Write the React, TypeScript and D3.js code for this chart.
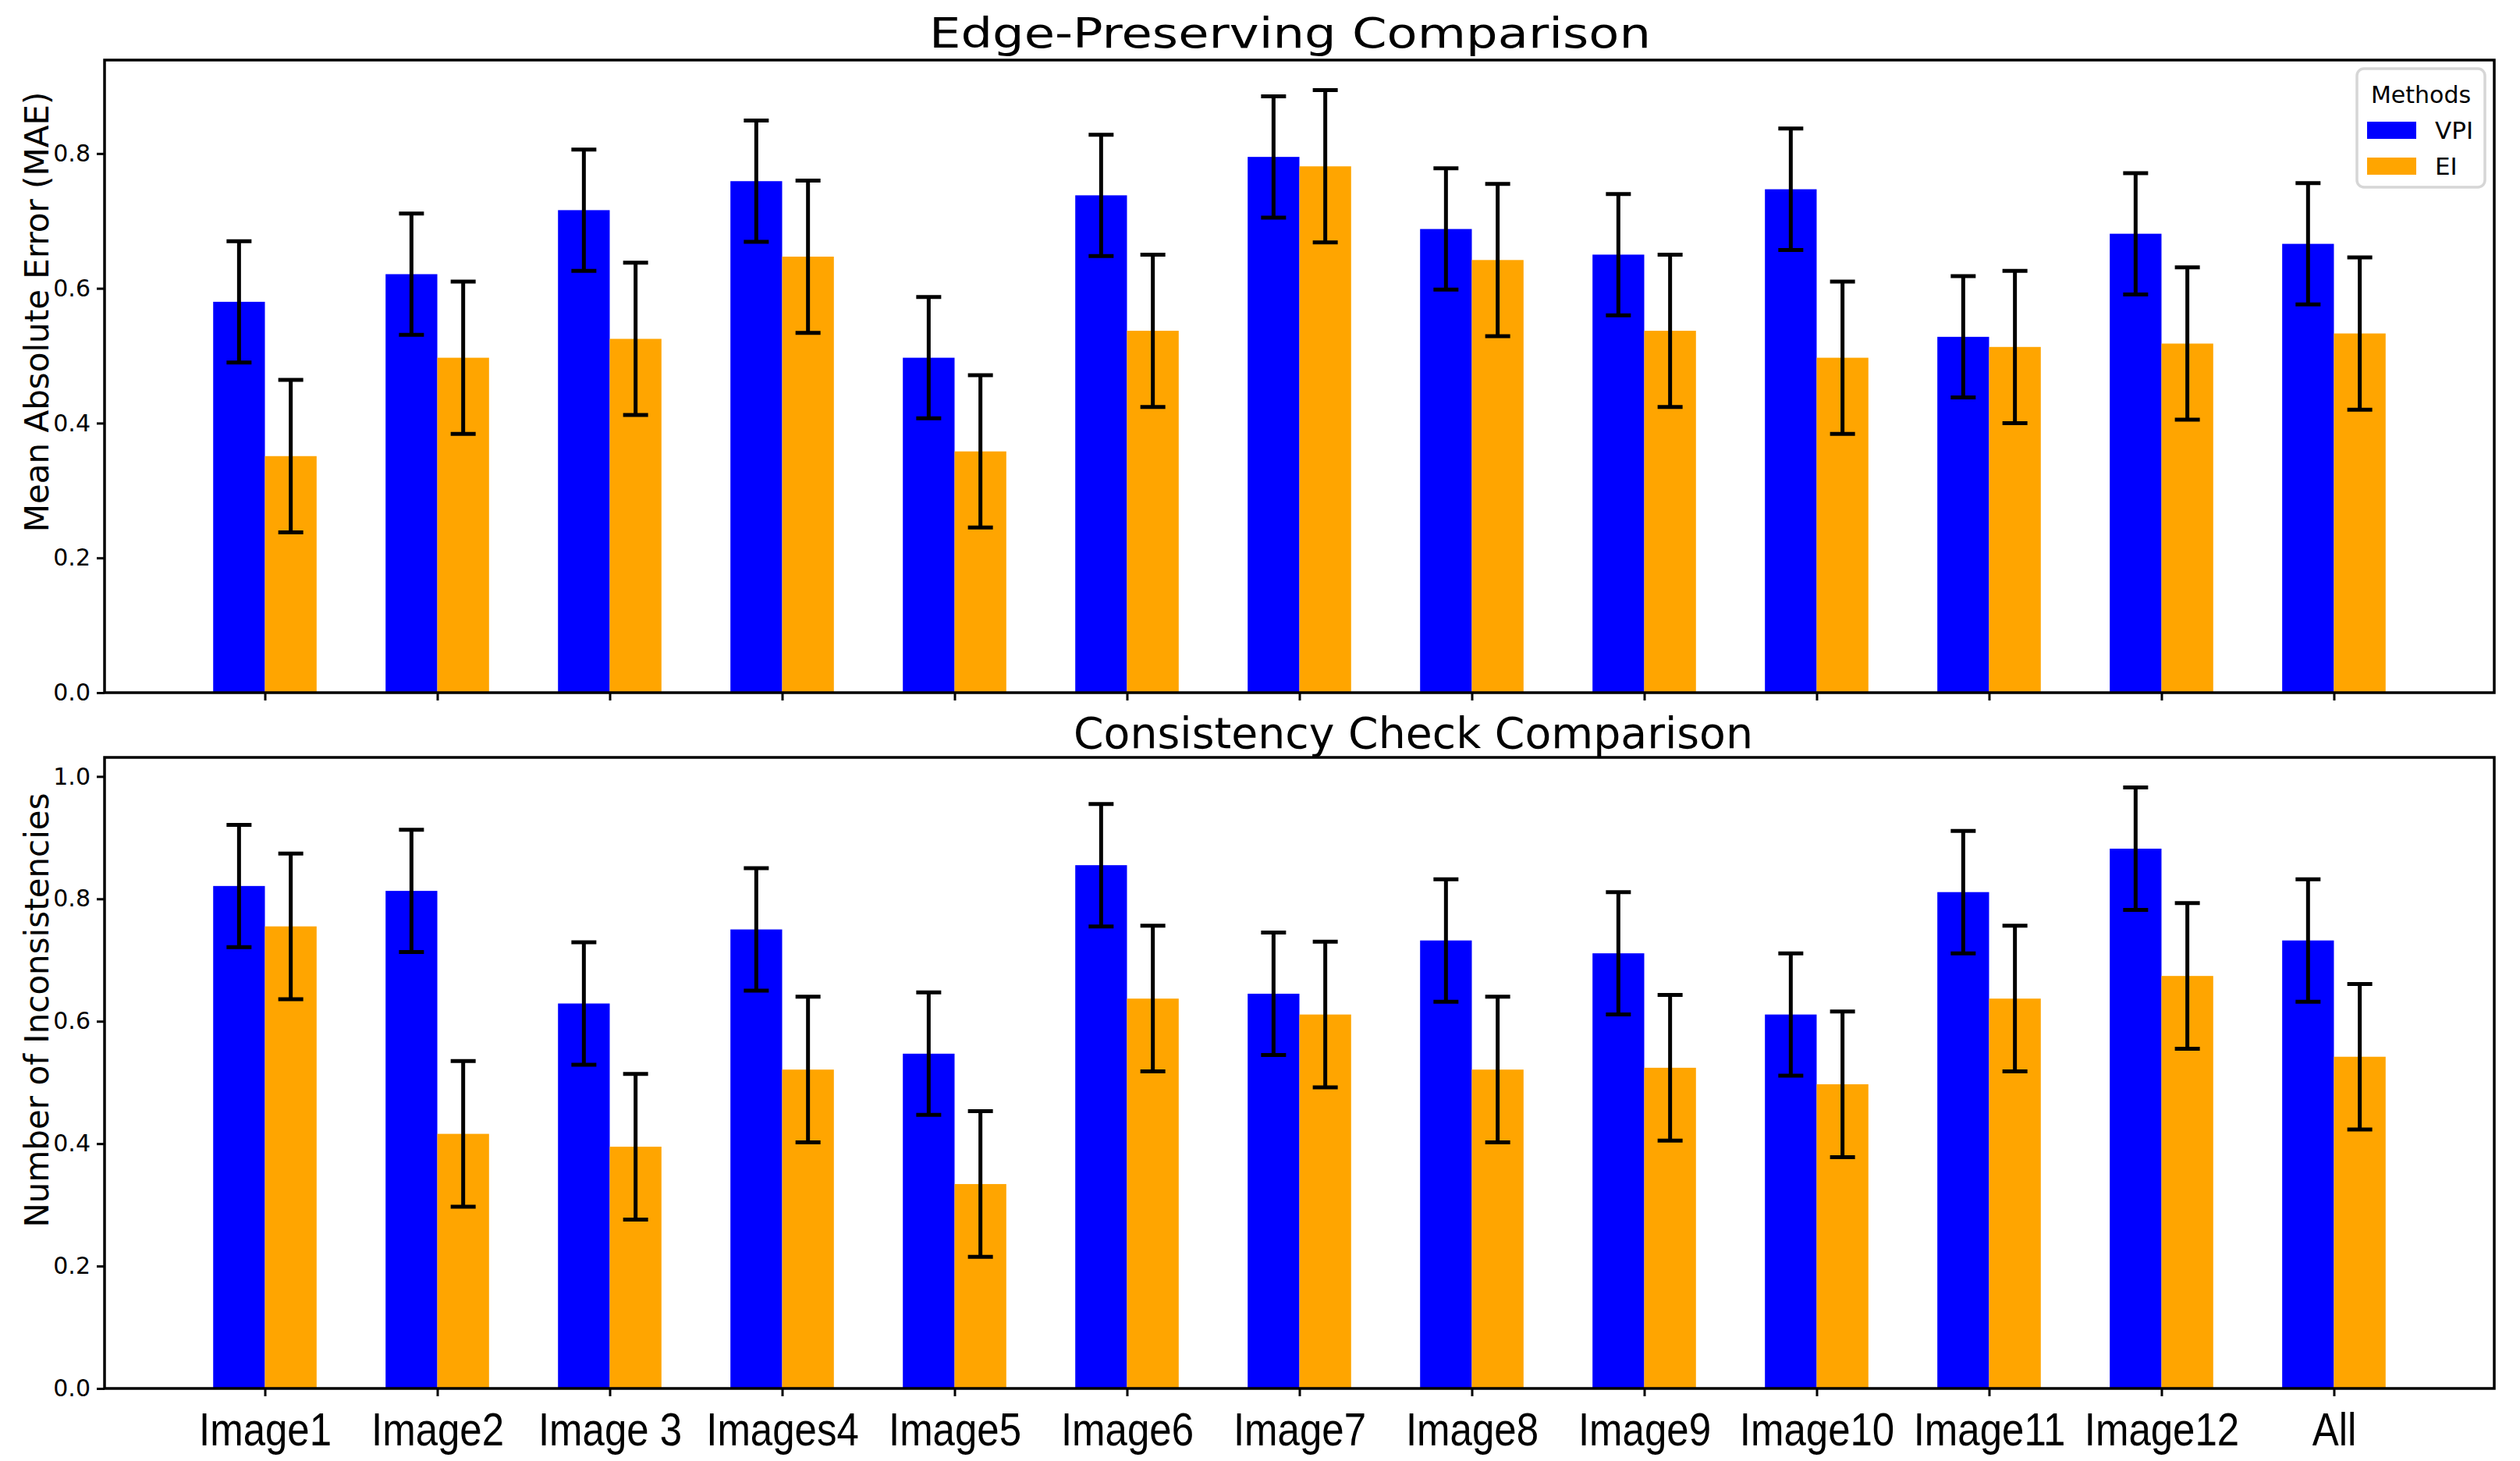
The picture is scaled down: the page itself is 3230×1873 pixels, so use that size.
import { useRef, useEffect } from 'react';
import * as d3 from 'd3';

const categories = ['Image1', 'Image2', 'Image 3', 'Images4', 'Image5', 'Image6', 'Image7', 'Image8', 'Image9', 'Image10', 'Image11', 'Image12', 'All'];
const methods = ['VPI', 'EI'];
const methodColors = ['#0000ff', '#ffa500'];

// Edge-preserving (MAE)
const maeVpi = [0.580, 0.621, 0.716, 0.759, 0.497, 0.738, 0.795, 0.688, 0.650, 0.747, 0.528, 0.681, 0.666];
const maeVpiErr = [0.09, 0.09, 0.09, 0.09, 0.09, 0.09, 0.09, 0.09, 0.09, 0.09, 0.09, 0.09, 0.09];
const maeEi = [0.351, 0.497, 0.525, 0.647, 0.358, 0.537, 0.781, 0.642, 0.537, 0.497, 0.513, 0.518, 0.533];
const maeEiErr = [0.113, 0.113, 0.113, 0.113, 0.113, 0.113, 0.113, 0.113, 0.113, 0.113, 0.113, 0.113, 0.113];

// Consistency check
const incVpi = [0.821, 0.813, 0.629, 0.750, 0.547, 0.855, 0.645, 0.732, 0.711, 0.611, 0.811, 0.882, 0.732];
const incVpiErr = [0.10, 0.10, 0.10, 0.10, 0.10, 0.10, 0.10, 0.10, 0.10, 0.10, 0.10, 0.10, 0.10];
const incEi = [0.755, 0.416, 0.395, 0.521, 0.334, 0.637, 0.611, 0.521, 0.524, 0.497, 0.637, 0.674, 0.542];
const incEiErr = [0.119, 0.119, 0.119, 0.119, 0.119, 0.119, 0.119, 0.119, 0.119, 0.119, 0.119, 0.119, 0.119];

const yTicksTop = [0, 0.2, 0.4, 0.6, 0.8];
const yTicksBottom = [0, 0.2, 0.4, 0.6, 0.8, 1.0];

const W = 3230;
const H = 1873;
const FONT = 'DejaVu Sans, sans-serif';
const TICK_FONT = '"Liberation Sans", Arial, sans-serif';

interface Panel {
  top: number;
  bottom: number;
  series: { values: number[]; errs: number[] }[];
  ticks: number[];
  title: string;
  titleX: number;
  titleY: number;
  titleSize: number;
  titleLen: number;
  ylabel: string;
  ylabelY: number;
  showLabels: boolean;
  legend: boolean;
}

export default function App() {
  const svgRef = useRef<SVGSVGElement>(null);

  useEffect(() => {
    if (!svgRef.current) return;
    const svg = d3.select(svgRef.current);
    svg.selectAll('*').remove();

    const left = 134;
    const right = 3197;
    const barW = 0.3;

    const x = d3.scaleLinear().domain([-0.93, categories.length - 1 + 0.93]).range([left, right]);
    const bw = x(barW) - x(0);

    const panels: Panel[] = [
      {
        top: 77, bottom: 888,
        series: [{ values: maeVpi, errs: maeVpiErr }, { values: maeEi, errs: maeEiErr }],
        ticks: yTicksTop,
        title: 'Edge-Preserving Comparison', titleX: 1191, titleY: 61, titleSize: 54, titleLen: 925,
        ylabel: 'Mean Absolute Error (MAE)', ylabelY: 400,
        showLabels: false, legend: true,
      },
      {
        top: 971, bottom: 1780,
        series: [{ values: incVpi, errs: incVpiErr }, { values: incEi, errs: incEiErr }],
        ticks: yTicksBottom,
        title: 'Consistency Check Comparison', titleX: 1376, titleY: 959, titleSize: 56, titleLen: 871,
        ylabel: 'Number of Inconsistencies', ylabelY: 1295,
        showLabels: true, legend: false,
      },
    ];

    panels.forEach((p) => {
      const ymax = d3.max(p.series.flatMap((s) => s.values.map((v, i) => v + s.errs[i]))) as number;
      const y = d3.scaleLinear().domain([0, ymax * 1.05]).range([p.bottom, p.top]);
      const g = svg.append('g');

      // bars
      p.series.forEach((s, si) => {
        const off = (si - 0.5) * barW;
        g.selectAll(null).data(s.values).join('rect')
          .attr('x', (_, i) => x(i + off) - bw / 2)
          .attr('y', (d) => y(d))
          .attr('width', bw)
          .attr('height', (d) => y(0) - y(d))
          .attr('fill', methodColors[si]);
      });

      // error bars
      p.series.forEach((s, si) => {
        const off = (si - 0.5) * barW;
        s.values.forEach((v, i) => {
          const cx = x(i + off);
          const lo = y(v - s.errs[i]);
          const hi = y(v + s.errs[i]);
          g.append('line').attr('x1', cx).attr('x2', cx).attr('y1', lo).attr('y2', hi)
            .attr('stroke', '#000').attr('stroke-width', 5);
          [lo, hi].forEach((yy) => {
            g.append('line').attr('x1', cx - 16).attr('x2', cx + 16).attr('y1', yy).attr('y2', yy)
              .attr('stroke', '#000').attr('stroke-width', 5);
          });
        });
      });

      // frame
      g.append('rect').attr('x', left).attr('y', p.top).attr('width', right - left).attr('height', p.bottom - p.top)
        .attr('fill', 'none').attr('stroke', '#000').attr('stroke-width', 3.5);

      // y axis
      const yAxis = g.append('g').attr('transform', `translate(${left},0)`)
        .call(d3.axisLeft(y).tickValues(p.ticks).tickFormat(d3.format('.1f')).tickSize(10).tickPadding(8));
      yAxis.select('.domain').remove();
      yAxis.selectAll('line').attr('stroke-width', 3);
      yAxis.selectAll('text').attr('font-family', FONT).attr('font-size', 30).attr('fill', '#000');

      // x axis
      const xAxis = g.append('g').attr('transform', `translate(0,${p.bottom})`)
        .call(d3.axisBottom(x).tickValues(d3.range(categories.length))
          .tickFormat((d) => (p.showLabels ? categories[d as number] : ''))
          .tickSize(10).tickPadding(20));
      xAxis.select('.domain').remove();
      xAxis.selectAll('line').attr('stroke-width', 3);
      xAxis.selectAll<SVGTextElement, unknown>('text')
        .attr('font-family', TICK_FONT).attr('font-size', 60).attr('fill', '#000')
        .each(function () {
          const len = this.getComputedTextLength();
          if (len > 0) {
            d3.select(this).attr('textLength', len * 0.85).attr('lengthAdjust', 'spacingAndGlyphs');
          }
        });

      // title
      svg.append('text').attr('x', p.titleX).attr('y', p.titleY)
        .attr('font-family', FONT).attr('font-size', p.titleSize)
        .attr('textLength', p.titleLen).attr('lengthAdjust', 'spacingAndGlyphs')
        .text(p.title);

      // y label
      svg.append('text').attr('transform', `translate(62,${p.ylabelY}) rotate(-90)`)
        .attr('text-anchor', 'middle').attr('font-family', FONT).attr('font-size', 42)
        .text(p.ylabel);

      if (p.legend) {
        const lg = svg.append('g').attr('transform', 'translate(3021,88)');
        lg.append('rect').attr('width', 164).attr('height', 152).attr('rx', 9)
          .attr('fill', '#fff').attr('fill-opacity', 0.8).attr('stroke', '#d6d6d6').attr('stroke-width', 3.5);
        lg.append('text').attr('x', 82).attr('y', 44).attr('text-anchor', 'middle')
          .attr('font-family', FONT).attr('font-size', 30).text('Methods');
        methods.forEach((m, i) => {
          lg.append('rect').attr('x', 13).attr('y', 68 + i * 46).attr('width', 63).attr('height', 22)
            .attr('fill', methodColors[i]);
          lg.append('text').attr('x', 100).attr('y', 90 + i * 46)
            .attr('font-family', FONT).attr('font-size', 31).text(m);
        });
      }
    });
  }, []);

  return (
    <svg ref={svgRef} width={W} height={H}
      style={{ position: 'absolute', left: 0, top: 0, background: '#fff' }} />
  );
}
